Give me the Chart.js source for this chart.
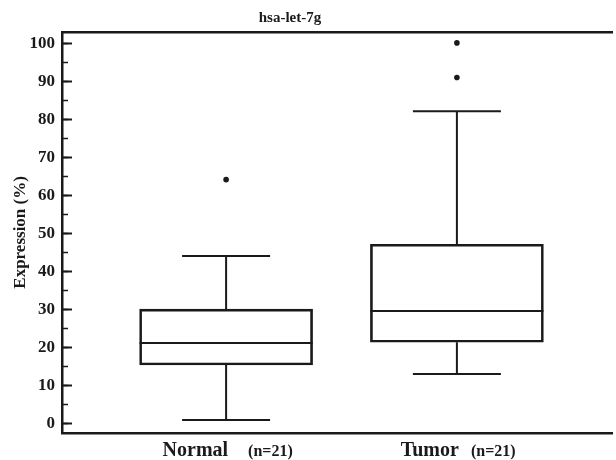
<!DOCTYPE html>
<html>
<head>
<meta charset="utf-8">
<script src="https://cdn.jsdelivr.net/npm/chart.js@4/dist/chart.umd.min.js"></script>
<style>
  html, body { margin: 0; padding: 0; background: #fff; }
  #wrap { width: 616px; height: 460px; position: relative; }
</style>
</head>
<body>
<div id="wrap"><canvas id="c" width="616" height="460"></canvas></div>
<script>
// ---- data ----
const chartTitle = 'hsa-let-7g';
const yAxisTitle = 'Expression (%)';
const categories = ['Normal', 'Tumor'];
const groupSizes = ['(n=21)', '(n=21)'];
const categoryPositions = [1, 2];
const whiskerLow = [0.8, 12.9];
const q1Values = [15.3, 21.3];
const medianValues = [21.1, 29.5];
const q3Values = [30.0, 47.1];
const whiskerHigh = [44.0, 82.1];
const outliers = [[64.1], [91.0, 100.1]];
const yMajorTicks = [0, 10, 20, 30, 40, 50, 60, 70, 80, 90, 100];
const yMinorTicks = [0, 5, 10, 15, 20, 25, 30, 35, 40, 45, 50, 55, 60, 65, 70, 75, 80, 85, 90, 95, 100];

const INK = '#1a1a1a';
const SERIF = '"Liberation Serif", "Times New Roman", serif';

const boxData = categoryPositions.map((x, i) => ({ x: x, y: [q1Values[i], q3Values[i]] }));
const outlierData = [];
outliers.forEach((arr, i) => arr.forEach(v => outlierData.push({ x: categoryPositions[i], y: v })));

const boxPlotPlugin = {
  id: 'boxWhiskers',
  afterDatasetsDraw(chart) {
    const ctx = chart.ctx;
    const y = chart.scales.y;
    const meta = chart.getDatasetMeta(0);
    ctx.save();
    ctx.strokeStyle = INK;
    ctx.lineWidth = 2;
    ctx.lineCap = 'butt';
    meta.data.forEach((bar, i) => {
      const props = bar.getProps(['x', 'width'], true);
      const cx = props.x;
      const half = props.width / 2;
      const capHalf = 44;
      const yMed = y.getPixelForValue(medianValues[i]);
      const yQ1 = y.getPixelForValue(q1Values[i]);
      const yQ3 = y.getPixelForValue(q3Values[i]);
      const yLo = y.getPixelForValue(whiskerLow[i]);
      const yHi = y.getPixelForValue(whiskerHigh[i]);
      ctx.beginPath();
      ctx.moveTo(cx - half, yMed); ctx.lineTo(cx + half, yMed);
      ctx.moveTo(cx, yQ3); ctx.lineTo(cx, yHi);
      ctx.moveTo(cx, yQ1); ctx.lineTo(cx, yLo);
      ctx.moveTo(cx - capHalf, yHi); ctx.lineTo(cx + capHalf, yHi);
      ctx.moveTo(cx - capHalf, yLo); ctx.lineTo(cx + capHalf, yLo);
      ctx.stroke();
    });
    ctx.restore();
  },
  afterDraw(chart) {
    const ctx = chart.ctx;
    const x = chart.scales.x;
    ctx.save();
    ctx.fillStyle = INK;
    ctx.font = 'bold 15px ' + SERIF;
    ctx.textAlign = 'center';
    ctx.textBaseline = 'alphabetic';
    ctx.fillText(chartTitle, 290, 22);
    categories.forEach((name, i) => {
      const cx = x.getPixelForValue(categoryPositions[i]);
      ctx.font = 'bold 20px ' + SERIF;
      ctx.textAlign = 'right';
      ctx.fillText(name, cx + 2, 456);
      ctx.font = 'bold 16px ' + SERIF;
      ctx.textAlign = 'left';
      ctx.fillText(groupSizes[i], cx + (i === 0 ? 22 : 14), 456);
    });
    ctx.restore();
  }
};

new Chart(document.getElementById('c'), {
  type: 'bar',
  data: {
    datasets: [
      {
        type: 'bar',
        label: 'box',
        data: boxData,
        backgroundColor: 'rgba(255,255,255,0)',
        borderColor: INK,
        borderWidth: 2,
        borderSkipped: false,
        barThickness: 173,
        xAxisID: 'x',
        yAxisID: 'y'
      },
      {
        type: 'scatter',
        label: 'outliers',
        data: outlierData,
        backgroundColor: INK,
        borderColor: INK,
        pointRadius: 2.8,
        pointBorderWidth: 0,
        xAxisID: 'x',
        yAxisID: 'y'
      }
    ]
  },
  options: {
    responsive: false,
    animation: false,
    devicePixelRatio: 1,
    layout: { padding: { top: 32, right: 1, bottom: 27, left: 0 } },
    plugins: {
      legend: { display: false },
      tooltip: { enabled: false },
      title: { display: false }
    },
    scales: {
      x: {
        type: 'linear',
        position: 'bottom',
        min: 0.289,
        max: 2.672,
        offset: false,
        ticks: { display: false },
        grid: { display: true, drawOnChartArea: false, drawTicks: false },
        border: { display: true, color: INK, width: 2.5 },
        afterFit(s) { s.height = 0; }
      },
      xTop: {
        type: 'linear',
        position: 'top',
        min: 0.289,
        max: 2.672,
        ticks: { display: false },
        grid: { display: true, drawOnChartArea: false, drawTicks: false },
        border: { display: true, color: INK, width: 2.5 },
        afterFit(s) { s.height = 0; }
      },
      y: {
        type: 'linear',
        position: 'left',
        weight: 1,
        min: -2.55,
        max: 102.97,
        afterBuildTicks(s) { s.ticks = yMajorTicks.map(v => ({ value: v })); },
        ticks: {
          color: INK,
          padding: 17,
          font: { family: SERIF, size: 17, weight: 'bold' }
        },
        grid: {
          display: true,
          drawOnChartArea: false,
          drawTicks: true,
          tickLength: -10,
          tickWidth: 2,
          tickColor: INK
        },
        border: { display: true, color: INK, width: 2.5 },
        title: {
          display: true,
          text: yAxisTitle,
          color: INK,
          font: { family: SERIF, size: 17, weight: 'bold' },
          padding: { top: 10, bottom: 0 }
        },
        afterFit(s) { s.width = 62; }
      },
      y2: {
        type: 'linear',
        position: 'left',
        weight: 0,
        min: -2.55,
        max: 102.97,
        afterBuildTicks(s) { s.ticks = yMinorTicks.map(v => ({ value: v })); },
        ticks: { display: false },
        grid: {
          display: true,
          drawOnChartArea: false,
          drawTicks: true,
          tickLength: -6,
          tickWidth: 1.5,
          tickColor: INK
        },
        border: { display: false },
        afterFit(s) { s.width = 0; }
      }
    }
  },
  plugins: [boxPlotPlugin]
});
</script>
</body>
</html>
